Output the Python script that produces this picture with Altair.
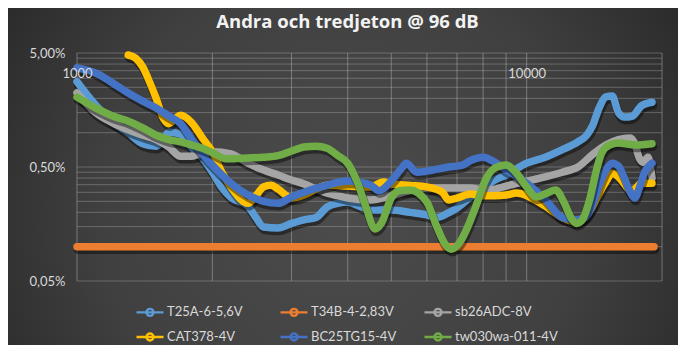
import altair as alt
import pandas as pd

series_names = ["T25A-6-5,6V", "T34B-4-2,83V", "sb26ADC-8V", "CAT378-4V", "BC25TG15-4V", "tw030wa-011-4V"]
series_colors = ["#5B9BD5", "#ED7D31", "#A5A5A5", "#FFC000", "#4472C4", "#70AD47"]

# frequencies (Hz) and distortion (%)
t25a_freq = [1000, 1100, 1200, 1300, 1400, 1500, 1550, 1600, 1700, 1800, 1900, 2000, 2100, 2200, 2400, 2500, 2600, 2800, 3000, 3200,
             3400, 3600, 3800, 4000, 4250, 4500, 5000, 5500, 6000, 6300, 6700, 7000, 7500, 8000, 8500, 9000, 10000, 11000, 12000, 13000,
             13600, 14000, 14500, 15000, 15500, 16000, 16500, 17200, 18000, 19000]
t25a_pct = [2.8, 1.75, 1.24, 1.0, 0.80, 0.76, 0.85, 1.01, 0.97, 0.74, 0.60, 0.45, 0.33, 0.27, 0.227, 0.18, 0.149, 0.146, 0.16, 0.172,
            0.18, 0.223, 0.24, 0.246, 0.227, 0.21, 0.21, 0.20, 0.19, 0.18, 0.198, 0.218, 0.273, 0.327, 0.385, 0.425, 0.54, 0.61, 0.71, 0.83,
            0.95, 1.14, 1.65, 2.06, 2.1, 1.5, 1.37, 1.4, 1.72, 1.85]

t34b_freq = [1000, 2000, 5000, 10000, 19200]
t34b_pct = [0.1, 0.1, 0.1, 0.1, 0.1]

sb26_freq = [1000, 1100, 1200, 1300, 1400, 1500, 1600, 1700, 1800, 1900, 2000, 2200, 2400, 2600, 2800, 3000, 3200, 3400, 3600, 3800,
             4000, 4500, 5000, 5500, 6000, 7000, 7500, 8000, 8500, 9000, 10000, 11000, 12000, 13000, 14000, 15000, 16000, 17000, 17400, 17800,
             18200, 18600, 19000]
sb26_pct = [2.23, 1.5, 1.22, 1.06, 0.95, 0.87, 0.75, 0.62, 0.62, 0.67, 0.68, 0.65, 0.54, 0.47, 0.425, 0.385, 0.355, 0.32, 0.295, 0.28,
            0.267, 0.257, 0.28, 0.31, 0.327, 0.327, 0.327, 0.315, 0.32, 0.34, 0.375, 0.41, 0.45, 0.5, 0.64, 0.78, 0.87, 0.90, 0.80, 0.60,
            0.55, 0.61, 0.40]

cat_freq = [1300, 1350, 1400, 1450, 1500, 1550, 1600, 1650, 1700, 1800, 1900, 2000, 2100, 2200, 2400, 2500, 2600, 2700, 2800, 3000,
            3200, 3400, 3600, 4000, 4500, 4800, 5000, 5500, 6000, 6500, 6700, 7000, 7500, 8000, 8500, 9000, 9500, 10000, 11000, 12000,
            12800, 13500, 14000, 14500, 15000, 15500, 16000, 16500, 17000, 17400, 18000, 19000]
cat_pct = [4.8, 4.5, 3.77, 2.79, 2.0, 1.38, 1.2, 1.32, 1.42, 1.22, 0.9, 0.68, 0.45, 0.334, 0.24, 0.28, 0.334, 0.346, 0.32, 0.267,
           0.284, 0.32, 0.346, 0.34, 0.334, 0.37, 0.355, 0.345, 0.334, 0.30, 0.257, 0.267, 0.29, 0.28, 0.28, 0.284, 0.295, 0.28, 0.227, 0.18,
           0.165, 0.186, 0.223, 0.295, 0.37, 0.44, 0.41, 0.355, 0.31, 0.32, 0.36, 0.36]

bc25_freq = [1000, 1100, 1200, 1300, 1400, 1500, 1600, 1700, 1800, 1900, 2000, 2200, 2400, 2600, 2800, 3000, 3200, 3600, 4000, 4500,
             4700, 5000, 5300, 5400, 5700, 6000, 6700, 7200, 7500, 8000, 8500, 9000, 9500, 10000, 11000, 12000, 12800, 13500, 14000, 14500,
             15000, 15500, 16000, 16500, 17000, 17400, 17800, 18300, 19000]
bc25_pct = [3.7, 3.34, 2.73, 2.23, 1.89, 1.65, 1.40, 1.2, 0.87, 0.65, 0.52, 0.36, 0.284, 0.25, 0.24, 0.273, 0.30, 0.346, 0.377, 0.346,
            0.31, 0.377, 0.5, 0.54, 0.45, 0.46, 0.5, 0.52, 0.57, 0.61, 0.55, 0.47, 0.415, 0.36, 0.26, 0.18, 0.172, 0.18, 0.232, 0.346,
            0.47, 0.54, 0.51, 0.40, 0.30, 0.267, 0.327, 0.45, 0.54]

tw030_freq = [1000, 1100, 1200, 1300, 1400, 1500, 1600, 1700, 1800, 1900, 2000, 2150, 2400, 2600, 2800, 3000, 3200, 3400, 3600, 3800,
              4000, 4200, 4400, 4600, 4750, 5000, 5200, 5500, 6000, 6300, 6600, 6800, 7150, 7400, 7700, 8100, 8500, 9000, 9500, 10000,
              10500, 11100, 11600, 12100, 12600, 12900, 13300, 13800, 14300, 14700, 15300, 16000, 17500, 19000]
tw030_pct = [2.05, 1.65, 1.40, 1.26, 1.1, 0.95, 0.87, 0.83, 0.78, 0.73, 0.67, 0.59, 0.6, 0.61, 0.63, 0.69, 0.75, 0.76, 0.73, 0.63,
             0.54, 0.37, 0.218, 0.143, 0.16, 0.267, 0.31, 0.315, 0.246, 0.153, 0.104, 0.095, 0.114, 0.15, 0.223, 0.385, 0.49, 0.52, 0.44, 0.334,
             0.273, 0.295, 0.314, 0.246, 0.175, 0.16, 0.172, 0.257, 0.47, 0.67, 0.78, 0.81, 0.78, 0.80]

x_grid_values = [1000, 2000, 3000, 4000, 5000, 6000, 7000, 8000, 9000, 10000, 20000]
x_label_values = [1000, 10000]
y_grid_values = [0.0005, 0.001, 0.0015, 0.002, 0.0025, 0.003, 0.0035, 0.004, 0.0045,
                 0.005, 0.01, 0.015, 0.02, 0.025, 0.03, 0.035, 0.04, 0.045, 0.05]
y_label_values = [0.0005, 0.005, 0.05]

all_freqs = [t25a_freq, t34b_freq, sb26_freq, cat_freq, bc25_freq, tw030_freq]
all_pcts = [t25a_pct, t34b_pct, sb26_pct, cat_pct, bc25_pct, tw030_pct]

rows = []
for name, fr, pc in zip(series_names, all_freqs, all_pcts):
    for f, p in zip(fr, pc):
        rows.append({"series": name, "freq": f, "value": p / 100.0})
df = pd.DataFrame(rows)

x_scale = alt.Scale(type="log", domain=[1000, 20000], nice=False)
y_scale = alt.Scale(type="log", domain=[0.0005, 0.05], nice=False)
color_scale = alt.Scale(domain=series_names, range=series_colors)

x_axis = alt.Axis(
    values=x_grid_values, format="d",
    labelExpr="indexof(" + str(x_label_values) + ", datum.value) >= 0 ? datum.label : ''",
    orient="bottom", offset=-217, labelPadding=3, domain=False, ticks=False, grid=False,
    labelColor="#d9d9d9", labelFont="Lato", labelFontSize=13, labelFlush=False, labelOverlap=False,
    title=None, zindex=1,
)
y_axis = alt.Axis(
    values=y_grid_values, format=".2%",
    labelExpr="indexof(" + str(y_label_values) + ", datum.value) >= 0 ? replace(datum.label, '.', ',') : ''",
    domain=False, ticks=False, labelPadding=12, grid=False,
    labelColor="#d9d9d9", labelFont="Lato", labelFontSize=13, labelFlush=False, labelOverlap=False,
    title=None, zindex=1,
)

legend = alt.Legend(
    orient="none", legendX=58, legendY=244, direction="horizontal", columns=3, title=None,
    symbolType="M-1,0H1M-0.26,0A0.26,0.26,0,1,1,0.26,0A0.26,0.26,0,1,1,-0.26,0Z",
    symbolSize=729, symbolStrokeWidth=2.4, labelColor="#d9d9d9", labelFontSize=13, labelFont="Lato",
    columnPadding=5, rowPadding=1, gridAlign="all", labelOffset=2, padding=0,
)

# background panel (decoration, radial gradient over the whole chart)
bg = alt.Chart(pd.DataFrame({"k": [0]})).mark_rect(
    fill=alt.RadialGradient(
        gradient="radial",
        stops=[alt.GradientStop(color="#4c4c4c", offset=0),
               alt.GradientStop(color="#404040", offset=0.5),
               alt.GradientStop(color="#1f1f1f", offset=1)],
        x1=0.5, y1=0.55, r1=0, x2=0.5, y2=0.55, r2=0.72,
    )
).encode(x=alt.value(-69), x2=alt.value(601), y=alt.value(-45), y2=alt.value(292))

x_grid = alt.Chart(pd.DataFrame({"freq": x_grid_values})).mark_rule(
    color="#c8c8c8", opacity=0.42, strokeWidth=1
).encode(x=alt.X("freq:Q", scale=x_scale, axis=x_axis))

y_grid = alt.Chart(pd.DataFrame({"value": y_grid_values})).mark_rule(
    color="#c8c8c8", opacity=0.32, strokeWidth=1
).encode(y=alt.Y("value:Q", scale=y_scale, axis=y_axis))

base = alt.Chart(df).encode(
    x=alt.X("freq:Q", scale=x_scale, axis=x_axis),
    y=alt.Y("value:Q", scale=y_scale, axis=y_axis),
)

layers = [bg, x_grid, y_grid]
for name in series_names:
    sub = base.transform_filter(alt.datum.series == name)
    shadow = sub.mark_line(color="black", strokeWidth=8.5, opacity=0.42, xOffset=1, yOffset=3,
                           interpolate="monotone", strokeCap="round", strokeJoin="round")
    line = sub.mark_line(strokeWidth=7.5, interpolate="monotone", strokeCap="round", strokeJoin="round").encode(
        color=alt.Color("series:N", scale=color_scale, legend=legend)
    )
    layers += [shadow, line]

chart = alt.layer(*layers).properties(
    width=585, height=228,
    autosize=alt.AutoSizeParams(type="none"),
    padding={"left": 69, "top": 45, "right": 16, "bottom": 64},
    background="#2a2a2a",
    title=alt.Title("Andra och tredjeton  @ 96 dB", color="#f2f2f2", fontSize=18.5, font="Open Sans",
                    fontWeight="bold", anchor="middle", offset=-23, dx=-22),
).configure_view(stroke=None)

chart.save("out.html", embed_options={"renderer": "svg", "actions": False})
